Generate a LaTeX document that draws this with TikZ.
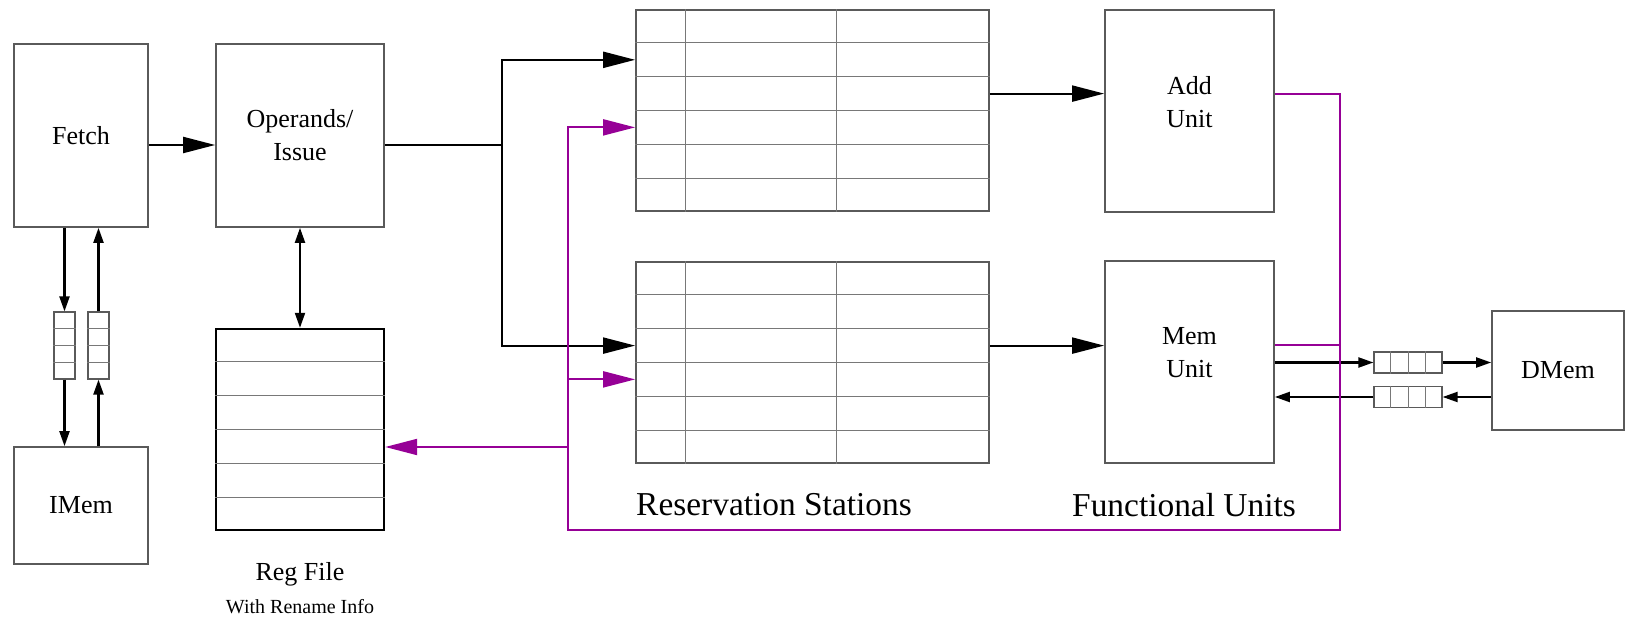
\documentclass[tikz,border=0pt]{standalone}
\usepackage{fontspec}
\setmainfont{Liberation Serif}
\usetikzlibrary{arrows.meta,calc}
\definecolor{busviolet}{RGB}{150,0,150}
\definecolor{frame}{RGB}{90,90,90}
\definecolor{cell}{RGB}{120,120,120}
\tikzset{
  unitbox/.style={draw=frame, line width=0.85pt, rectangle, inner sep=0pt, align=center,
    font=\fontsize{13}{16.5}\selectfont},
  boxtext/.style={inner sep=0pt, align=center, font=\fontsize{13}{16.5}\selectfont},
  regbox/.style={draw=black, line width=1.2pt, rectangle, inner sep=0pt},
  qbox/.style={draw=frame, line width=0.6pt, rectangle, inner sep=0pt},
  gridline/.style={draw=cell, line width=0.5pt},
  bigarrow/.style={line width=1.05pt, -{Triangle[length=16pt,width=8pt]}},
  smallarrow/.style={line width=1.05pt, -{Triangle[length=7.5pt,width=5pt]}},
  smallboth/.style={line width=1.05pt, {Triangle[length=7.5pt,width=5pt]}-{Triangle[length=7.5pt,width=5pt]}},
  busline/.style={draw=busviolet, line width=1pt},
  busarrow/.style={busline, -{Triangle[length=16pt,width=8pt]}},
  caption/.style={font=\fontsize{16.7}{20}\selectfont, inner sep=0pt},
}
\begin{document}
\begin{tikzpicture}[x=0.5pt, y=-0.5pt]
\useasboundingbox (0,0) rectangle (1627,619);

% pipeline front end
\node[unitbox, minimum width=67pt, minimum height=91.5pt] (fetch) at (81,135.5) {Fetch};
\node[unitbox, minimum width=84pt, minimum height=91.5pt] (ops) at (300,135.5) {Operands/\\Issue};
\node[unitbox, minimum width=67pt, minimum height=58.5pt] (imem) at (81,505.5) {IMem};

% instruction-memory queues
\node[qbox, minimum width=10.5pt, minimum height=33.5pt] (qf1) at (64.5,345.5) {};
\node[qbox, minimum width=10.5pt, minimum height=33.5pt] (qf2) at (98.5,345.5) {};
\foreach \q in {qf1,qf2}
  \foreach \i in {1,2,3}
    \draw[gridline] ($(\q.north west)!\i/4!(\q.south west)$) -- ($(\q.north east)!\i/4!(\q.south east)$);

% register file
\node[regbox, minimum width=84pt, minimum height=100.5pt] (reg) at (300,429.5) {};
\foreach \i in {1,...,5}
  \draw[gridline] ($(reg.north west)!\i/6!(reg.south west)$) -- ($(reg.north east)!\i/6!(reg.south east)$);
\node[font=\fontsize{13}{15}\selectfont, inner sep=0pt] (regname) at (300,574) {Reg File};
\node[font=\fontsize{10}{12}\selectfont, inner sep=0pt] (reginfo) at (300,607) {With Rename Info};

% reservation stations
\node[unitbox, minimum width=176.5pt, minimum height=100.5pt] (rs1) at (812.5,110.5) {};
\node[unitbox, minimum width=176.5pt, minimum height=100.5pt] (rs2) at (812.5,362.5) {};
\foreach \r in {rs1,rs2}{
  \foreach \i in {1,...,5}
    \draw[gridline] ($(\r.north west)!\i/6!(\r.south west)$) -- ($(\r.north east)!\i/6!(\r.south east)$);
  \foreach \c in {50,201}
    \draw[gridline] ($(\r.north west)+(\c,0)$) -- ($(\r.south west)+(\c,0)$);
}
\node[caption] (rslabel) at (774,505) {Reservation Stations};

% functional units (labels sit a little above the middle)
\node[unitbox, minimum width=84.5pt, minimum height=101pt] (add) at (1189.5,111) {};
\node[boxtext] (addtext) at (1189.5,102) {Add\\Unit};
\node[unitbox, minimum width=84.5pt, minimum height=101pt] (mem) at (1189.5,362) {};
\node[boxtext] (memtext) at (1189.5,353) {Mem\\Unit};
\node[caption] (fulabel) at (1184,505) {Functional Units};

% data memory and its queues
\node[unitbox, minimum width=66pt, minimum height=59.5pt] (dmem) at (1558,370.5) {DMem};
\node[qbox, minimum width=34pt, minimum height=10.5pt] (qd1) at (1408,362.5) {};
\node[qbox, minimum width=34pt, minimum height=10.5pt] (qd2) at (1408,397) {};
\foreach \q in {qd1,qd2}
  \foreach \i in {1,2,3}
    \draw[gridline] ($(\q.north west)!\i/4!(\q.north east)$) -- ($(\q.south west)!\i/4!(\q.south east)$);

% entry points on the station rows
\coordinate (rs1in) at ($(rs1.north west)!1.5/6!(rs1.south west)$);
\coordinate (rs1bus) at ($(rs1.north west)!3.5/6!(rs1.south west)$);
\coordinate (rs1out) at ($(rs1.north east)!2.5/6!(rs1.south east)$);
\coordinate (rs2in) at ($(rs2.north west)!2.5/6!(rs2.south west)$);
\coordinate (rs2bus) at ($(rs2.north west)!3.5/6!(rs2.south west)$);
\coordinate (rs2out) at ($(rs2.north east)!2.5/6!(rs2.south east)$);

% issue path
\coordinate (fetchout) at (fetch.east |- 0,145);
\coordinate (opsin) at (ops.west |- 0,145);
\coordinate (opsout) at (ops.east |- 0,145);
\coordinate (split) at (502,145);
\draw[bigarrow] (fetchout) -- (opsin);
\draw[line width=1.05pt] (opsout) -- (split);
\draw[bigarrow] (split) |- (rs1in);
\draw[bigarrow] (split) |- (rs2in);
\draw[bigarrow] (rs1out) -- (add.west |- rs1out);
\draw[bigarrow] (rs2out) -- (mem.west |- rs2out);

% instruction memory traffic
\draw[smallarrow] (fetch.south -| qf1) -- (qf1.north);
\draw[smallarrow] (qf1.south) -- (imem.north -| qf1);
\draw[smallarrow] (imem.north -| qf2) -- (qf2.south);
\draw[smallarrow] (qf2.north) -- (fetch.south -| qf2);
\draw[smallboth] (ops.south) -- (reg.north);

% data memory traffic
\draw[smallarrow] (mem.east |- qd1) -- (qd1.west);
\draw[smallarrow] (qd1.east) -- (dmem.west |- qd1);
\draw[smallarrow] (dmem.west |- qd2) -- (qd2.east);
\draw[smallarrow] (qd2.west) -- (mem.east |- qd2);

% result bus
\coordinate (addres) at (add.east |- 0,94);
\coordinate (memres) at (mem.east |- 0,345);
\coordinate (busR) at (1340,530);
\coordinate (busL) at (568,530);
\draw[busline] (memres) -- (memres -| busR);
\draw[busarrow] (addres) -| (busR) -- (busL) |- (rs1bus);
\draw[busarrow] (busL |- rs2bus) -- (rs2bus);
\draw[busarrow] (busL |- 0,447) -- (reg.east |- 0,447);
\end{tikzpicture}
\end{document}
